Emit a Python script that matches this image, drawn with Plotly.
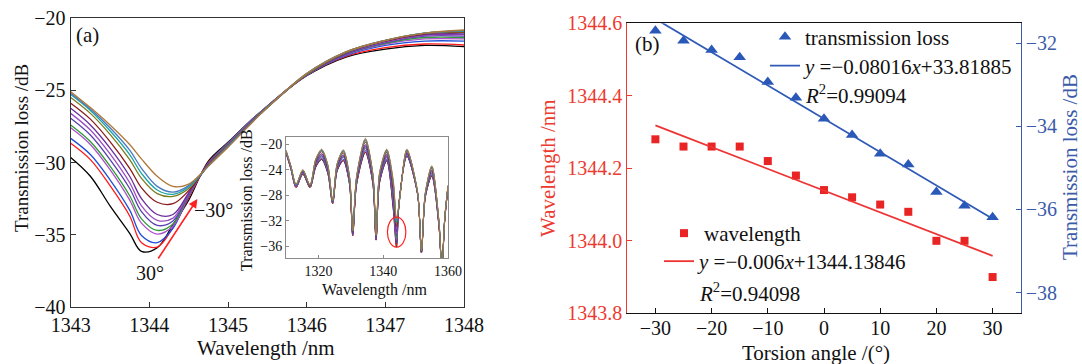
import plotly.graph_objects as go

# ---------------- data ----------------
angles = [30, 25, 20, 15, 10, 5, 0, -5, -10, -15, -20, -25, -30]
curve_colors = ["#000000", "#ff1a1a", "#1f4fd8", "#b050c8", "#2e9a3a", "#5a3fb0", "#9b4fc4",
                "#6a2f9a", "#8b1a1a", "#7a7a20", "#1aa5a5", "#4a78c0", "#b07838"]

main_wl = [1343.0, 1343.25, 1343.5, 1343.75, 1343.9, 1344.1, 1344.3, 1344.5, 1344.75, 1345.0,
           1345.25, 1345.5, 1346.0, 1346.5, 1347.0, 1347.5, 1348.0]
main_curves = [
    [-29.65, -30.95, -33.0, -34.9, -36.15, -35.9, -34.3, -32.6, -29.9, -28.6, -27.3, -26.1, -24.0, -22.7, -22.15, -21.9, -21.98],
    [-28.67, -29.8, -31.6, -33.7, -35.55, -35.85, -34.5, -32.45, -30.0, -28.65, -27.3, -26.1, -23.95, -22.65, -22.05, -21.8, -21.87],
    [-28.33, -29.45, -31.2, -33.3, -35.05, -35.55, -34.55, -32.35, -30.05, -28.65, -27.3, -26.1, -23.95, -22.6, -21.9, -21.6, -21.6],
    [-27.6, -28.75, -30.5, -32.6, -34.2, -34.95, -34.4, -32.3, -30.1, -28.7, -27.35, -26.1, -23.95, -22.55, -21.8, -21.45, -21.45],
    [-27.4, -28.55, -30.25, -32.3, -33.9, -34.7, -34.25, -32.25, -30.1, -28.7, -27.35, -26.1, -23.95, -22.5, -21.75, -21.35, -21.35],
    [-26.94, -28.1, -29.8, -31.8, -33.4, -34.35, -34.05, -32.2, -30.1, -28.75, -27.4, -26.15, -23.95, -22.5, -21.7, -21.25, -21.25],
    [-26.6, -27.75, -29.4, -31.4, -33.0, -34.0, -33.85, -32.15, -30.15, -28.75, -27.4, -26.15, -23.9, -22.45, -21.65, -21.2, -21.15],
    [-26.25, -27.4, -29.0, -30.95, -32.5, -33.6, -33.6, -32.1, -30.15, -28.8, -27.45, -26.15, -23.9, -22.45, -21.6, -21.15, -21.1],
    [-25.9, -27.0, -28.55, -30.4, -31.75, -32.75, -32.85, -31.95, -30.2, -28.8, -27.45, -26.2, -23.9, -22.4, -21.6, -21.1, -21.0],
    [-25.5, -26.6, -28.05, -29.8, -31.1, -32.15, -32.35, -31.8, -30.2, -28.85, -27.5, -26.2, -23.9, -22.4, -21.55, -21.05, -20.95],
    [-25.3, -26.4, -27.8, -29.45, -30.75, -31.9, -32.2, -31.7, -30.25, -28.85, -27.5, -26.2, -23.85, -22.35, -21.55, -21.05, -20.9],
    [-25.2, -26.3, -27.6, -29.15, -30.4, -31.65, -32.05, -31.6, -30.25, -28.9, -27.5, -26.2, -23.85, -22.35, -21.55, -21.05, -20.87],
    [-25.1, -26.2, -27.4, -28.75, -29.75, -30.95, -31.65, -31.5, -30.25, -28.95, -27.55, -26.2, -23.85, -22.35, -21.55, -21.05, -20.83],
]

inset_wl = [1310.0, 1311.5, 1313.1, 1315.2, 1317.4, 1319.2, 1321.0, 1322.9, 1324.4, 1325.8, 1327.7,
            1329.6, 1330.6, 1331.8, 1334.5, 1336.8, 1337.8, 1338.9, 1341.1, 1343.1, 1344.1, 1345.0,
            1347.3, 1350.6, 1351.8, 1353.0, 1355.0, 1357.2, 1358.1, 1359.0, 1360.0]
inset_curves = [
    [-21.4, -23.9, -26.8, -24.7, -26.8, -23.6, -22.4, -24.6, -29.3, -24.2, -22.6, -26.3, -34.3, -26.3, -21.3, -26.2, -35.0, -26.0, -22.6, -30.2, -36.1, -28.6, -21.9, -27.8, -37.0, -28.3, -25.0, -32.8, -39.5, -31.8, -26.8],
    [-21.4, -23.9, -26.8, -24.7, -26.8, -23.5, -22.3, -24.5, -29.3, -24.1, -22.5, -26.2, -34.3, -26.2, -21.2, -26.1, -35.0, -25.9, -22.5, -29.9, -35.9, -28.6, -21.8, -27.8, -37.0, -28.3, -24.9, -32.8, -39.5, -31.8, -26.8],
    [-21.3, -23.8, -26.7, -24.6, -26.7, -23.4, -22.2, -24.4, -29.2, -24.0, -22.4, -26.1, -34.2, -26.1, -21.0, -26.0, -34.9, -25.8, -22.4, -29.6, -35.5, -28.6, -21.8, -27.8, -36.9, -28.2, -24.8, -32.7, -39.5, -31.8, -26.8],
    [-21.3, -23.8, -26.7, -24.5, -26.7, -23.2, -22.0, -24.2, -29.2, -23.9, -22.1, -25.9, -34.1, -25.9, -20.7, -25.8, -34.8, -25.6, -22.1, -28.9, -34.9, -28.7, -21.6, -27.7, -36.9, -28.1, -24.6, -32.6, -39.5, -31.7, -26.7],
    [-21.3, -23.7, -26.6, -24.5, -26.7, -23.2, -21.9, -24.1, -29.1, -23.8, -22.0, -25.9, -34.0, -25.9, -20.6, -25.7, -34.7, -25.5, -22.0, -28.7, -34.7, -28.7, -21.5, -27.7, -36.9, -28.1, -24.5, -32.5, -39.5, -31.7, -26.7],
    [-21.2, -23.7, -26.6, -24.4, -26.6, -23.1, -21.8, -24.0, -29.1, -23.7, -21.9, -25.8, -34.0, -25.8, -20.4, -25.5, -34.7, -25.4, -21.9, -28.3, -34.3, -28.7, -21.5, -27.7, -36.8, -28.0, -24.3, -32.5, -39.5, -31.7, -26.7],
    [-21.2, -23.7, -26.6, -24.4, -26.6, -23.0, -21.6, -23.9, -29.1, -23.6, -21.8, -25.7, -33.9, -25.7, -20.3, -25.4, -34.6, -25.2, -21.8, -28.0, -34.0, -28.7, -21.4, -27.7, -36.8, -28.0, -24.2, -32.4, -39.5, -31.7, -26.7],
    [-21.2, -23.6, -26.5, -24.3, -26.6, -22.9, -21.5, -23.8, -29.0, -23.5, -21.7, -25.6, -33.9, -25.6, -20.1, -25.3, -34.6, -25.1, -21.6, -27.7, -33.7, -28.8, -21.3, -27.6, -36.8, -27.9, -24.1, -32.4, -39.5, -31.6, -26.6],
    [-21.1, -23.5, -26.4, -24.2, -26.5, -22.7, -21.2, -23.6, -28.9, -23.3, -21.4, -25.4, -33.7, -25.4, -19.7, -25.0, -34.4, -24.8, -21.3, -26.9, -32.9, -28.8, -21.1, -27.6, -36.7, -27.8, -23.8, -32.2, -39.5, -31.6, -26.6],
    [-21.1, -23.5, -26.4, -24.1, -26.5, -22.5, -21.0, -23.4, -28.9, -23.2, -21.2, -25.2, -33.6, -25.2, -19.4, -24.8, -34.3, -24.6, -21.1, -26.3, -32.4, -28.9, -21.0, -27.5, -36.7, -27.7, -23.6, -32.1, -39.5, -31.5, -26.5],
    [-21.0, -23.5, -26.4, -24.1, -26.4, -22.4, -21.0, -23.4, -28.9, -23.1, -21.1, -25.1, -33.6, -25.1, -19.4, -24.8, -34.3, -24.6, -21.0, -26.1, -32.2, -28.9, -20.9, -27.5, -36.6, -27.7, -23.6, -32.1, -39.5, -31.5, -26.5],
    [-21.0, -23.4, -26.3, -24.1, -26.4, -22.4, -20.9, -23.3, -28.8, -23.1, -21.0, -25.1, -33.6, -25.1, -19.3, -24.7, -34.3, -24.5, -20.9, -26.0, -32.1, -28.9, -20.9, -27.5, -36.6, -27.7, -23.5, -32.1, -39.5, -31.5, -26.5],
    [-21.0, -23.4, -26.3, -24.0, -26.4, -22.3, -20.8, -23.2, -28.8, -23.0, -20.9, -25.0, -33.5, -25.0, -19.1, -24.6, -34.2, -24.4, -20.8, -25.6, -31.7, -28.9, -20.8, -27.5, -36.6, -27.6, -23.4, -32.0, -39.5, -31.5, -26.5],
]

torsion_angle = [-30, -25, -20, -15, -10, -5, 0, 5, 10, 15, 20, 25, 30]
dip_wavelength = [1344.28, 1344.26, 1344.26, 1344.26, 1344.22, 1344.18, 1344.14, 1344.12, 1344.10,
                  1344.08, 1344.00, 1344.00, 1343.90]
dip_loss = [-31.70, -31.94, -32.16, -32.34, -32.93, -33.31, -33.82, -34.21, -34.66, -34.92,
            -35.58, -35.91, -36.19]

wl_slope, wl_intercept = -0.006, 1344.13846
tl_slope, tl_intercept = -0.08016, -33.81885
fit_x = [-30, 30]

main_xticks = [1343, 1344, 1345, 1346, 1347, 1348]
main_yticks = [-40, -35, -30, -25, -20]
inset_xticks = [1320, 1340, 1360]
inset_yticks = [-36, -32, -28, -24, -20]
b_xticks = [-30, -20, -10, 0, 10, 20, 30]
b_wl_ticks = [1343.8, 1344.0, 1344.2, 1344.4, 1344.6]
b_tl_ticks = [-38, -36, -34, -32]

# ---------------- styling ----------------
W, H = 1082, 364
FONT = "Liberation Serif"
RED = "#ec3a30"
BLUE = "#3b5ba9"
AX = "#333333"


def px(x):
    return x / W


def py(y):
    return 1 - y / H


fig = go.Figure()

for ang, vals, col in zip(angles, main_curves, curve_colors):
    fig.add_trace(go.Scatter(x=main_wl, y=vals, mode="lines", name=f"{ang}°",
                             line=dict(color=col, width=1.3, shape="spline", smoothing=1.0),
                             xaxis="x", yaxis="y", showlegend=False))

for ang, vals, col in zip(angles, inset_curves, curve_colors):
    fig.add_trace(go.Scatter(x=inset_wl, y=vals, mode="lines", name=f"{ang}°",
                             line=dict(color=col, width=1.0, shape="spline", smoothing=0.8),
                             xaxis="x2", yaxis="y2", showlegend=False))

# panel (b)
fig.add_trace(go.Scatter(x=torsion_angle, y=dip_loss, mode="markers", name="transmission loss",
                         marker=dict(symbol="triangle-up", size=11, color="#2a58b8"),
                         xaxis="x3", yaxis="y4", legend="legend", cliponaxis=False))
fig.add_trace(go.Scatter(x=fit_x, y=[tl_slope * v + tl_intercept for v in fit_x], mode="lines",
                         name="<i>y</i> =−0.08016<i>x</i>+33.81885",
                         line=dict(color="#2f5bb7", width=1.8),
                         xaxis="x3", yaxis="y4", legend="legend3"))
fig.add_trace(go.Scatter(x=torsion_angle, y=dip_wavelength, mode="markers", name="wavelength",
                         marker=dict(symbol="square", size=8, color="#e82424"),
                         xaxis="x3", yaxis="y3", legend="legend2", cliponaxis=False))
fig.add_trace(go.Scatter(x=fit_x, y=[wl_slope * v + wl_intercept for v in fit_x], mode="lines",
                         name="<i>y</i> =−0.006<i>x</i>+1344.13846",
                         line=dict(color="#ee3333", width=1.8),
                         xaxis="x3", yaxis="y3", legend="legend4"))

tickfont = dict(family=FONT, size=20, color="#111111")
common = dict(showgrid=False, zeroline=False, showline=True, ticks="inside", ticklen=5,
              automargin=False)
inset_common = dict(showgrid=False, zeroline=False, showline=True, ticks="inside", ticklen=3,
                    automargin=False, linecolor="#8a8a8a", linewidth=1, mirror=True,
                    tickcolor="#8a8a8a", tickfont=dict(family=FONT, size=14, color="#111111"))
legfont = dict(family=FONT, size=21, color="#111111")


def leg(x, y):
    return dict(x=px(x), y=py(y), xanchor="left", yanchor="top", bgcolor="rgba(0,0,0,0)",
                font=legfont, tracegroupgap=0)


fig.update_layout(
    width=W, height=H,
    margin=dict(l=0, r=0, t=0, b=0, autoexpand=False),
    paper_bgcolor="white", plot_bgcolor="white",
    font=dict(family=FONT, size=20, color="#111111"),
    xaxis=dict(domain=[px(70.7), px(464)], range=[1343, 1348], tickvals=main_xticks, anchor="y",
               linecolor=AX, linewidth=1.3, mirror=True, tickcolor=AX, tickfont=tickfont,
               ticklabelstandoff=0, **common),
    yaxis=dict(domain=[py(307), py(18)], range=[-40, -20], tickvals=main_yticks, anchor="x",
               linecolor=AX, linewidth=1.3, mirror=True, tickcolor=AX, tickfont=tickfont, **common),
    xaxis2=dict(domain=[px(286), px(448)], range=[1310, 1360], tickvals=inset_xticks, anchor="y2",
                **inset_common),
    yaxis2=dict(domain=[py(258), py(137)], range=[-37.8, -18.9], tickvals=inset_yticks, anchor="x2",
                **inset_common),
    xaxis3=dict(domain=[px(627.3), px(1020.7)], range=[-35, 35], tickvals=b_xticks, anchor="y3",
                linecolor="#111111", linewidth=1.3, mirror=True, tickcolor="#111111",
                tickfont=tickfont, ticklabelstandoff=-3, **common),
    yaxis3=dict(domain=[py(313.3), py(23.3)], range=[1343.8, 1344.6], tickvals=b_wl_ticks,
                tickformat=".1f", anchor="x3", linecolor=RED, linewidth=1.3, tickcolor=RED,
                tickfont=dict(family=FONT, size=20, color=RED), **common),
    yaxis4=dict(range=[-38.5, -31.52], tickvals=b_tl_ticks, overlaying="y3", side="right",
                anchor="x3", linecolor=BLUE, linewidth=1.3, tickcolor=BLUE,
                tickfont=dict(family=FONT, size=20, color=BLUE), **common),
    legend=leg(765, 16.5),
    legend3=leg(765, 45.5),
    legend2=leg(664, 213),
    legend4=leg(659, 241),
)

ann = []


def paper_text(text, x, y, size, color="#111111", angle=0, xanchor="center"):
    ann.append(dict(text=text, x=px(x), y=py(y), xref="paper", yref="paper", showarrow=False,
                    xanchor=xanchor, yanchor="middle", textangle=angle,
                    font=dict(family=FONT, size=size, color=color)))


paper_text("Wavelength /nm", 266, 348, 21)
paper_text("Transmission loss /dB", 21, 148, 19, angle=-90)
paper_text("Wavelength /nm", 374, 290, 16)
paper_text("Transmission loss /dB", 246, 200, 16, angle=-90)
paper_text("Torsion angle /(°)", 816, 353, 21)
paper_text("Wavelength /nm", 548, 168, 21, color=RED, angle=-90)
paper_text("Transmission loss /dB", 1070, 167, 21, color=BLUE, angle=-90)
paper_text("(a)", 87.5, 35.5, 21)
paper_text("(b)", 647.5, 44, 21)
paper_text("<i>R</i><sup>2</sup>=0.99094", 803, 95, 21, xanchor="left")
paper_text("<i>R</i><sup>2</sup>=0.94098", 697, 292, 21, xanchor="left")

# panel (a) labels and arrow (data coords)
ann.append(dict(text="30°", x=1344.01, y=-37.65, xref="x", yref="y", showarrow=False,
                font=dict(family=FONT, size=20, color="#111111")))
ann.append(dict(text="−30°", x=1344.81, y=-33.29, xref="x", yref="y", showarrow=False,
                font=dict(family=FONT, size=20, color="#111111")))
ann.append(dict(text="", x=1344.61, y=-32.53, xref="x", yref="y", ax=1344.10, ay=-36.75,
                axref="x", ayref="y", showarrow=True, arrowhead=2, arrowsize=1.1,
                arrowwidth=1.6, arrowcolor="#ff2020"))
fig.update_layout(annotations=ann)

fig.add_shape(type="circle", xref="x2", yref="y2", x0=1341.3, x1=1347.0, y0=-36.1, y1=-31.4,
              line=dict(color="#ff2020", width=1.2))

fig.write_html("out.html", config={"displayModeBar": False},
               post_script="document.body.style.margin='0px';")
